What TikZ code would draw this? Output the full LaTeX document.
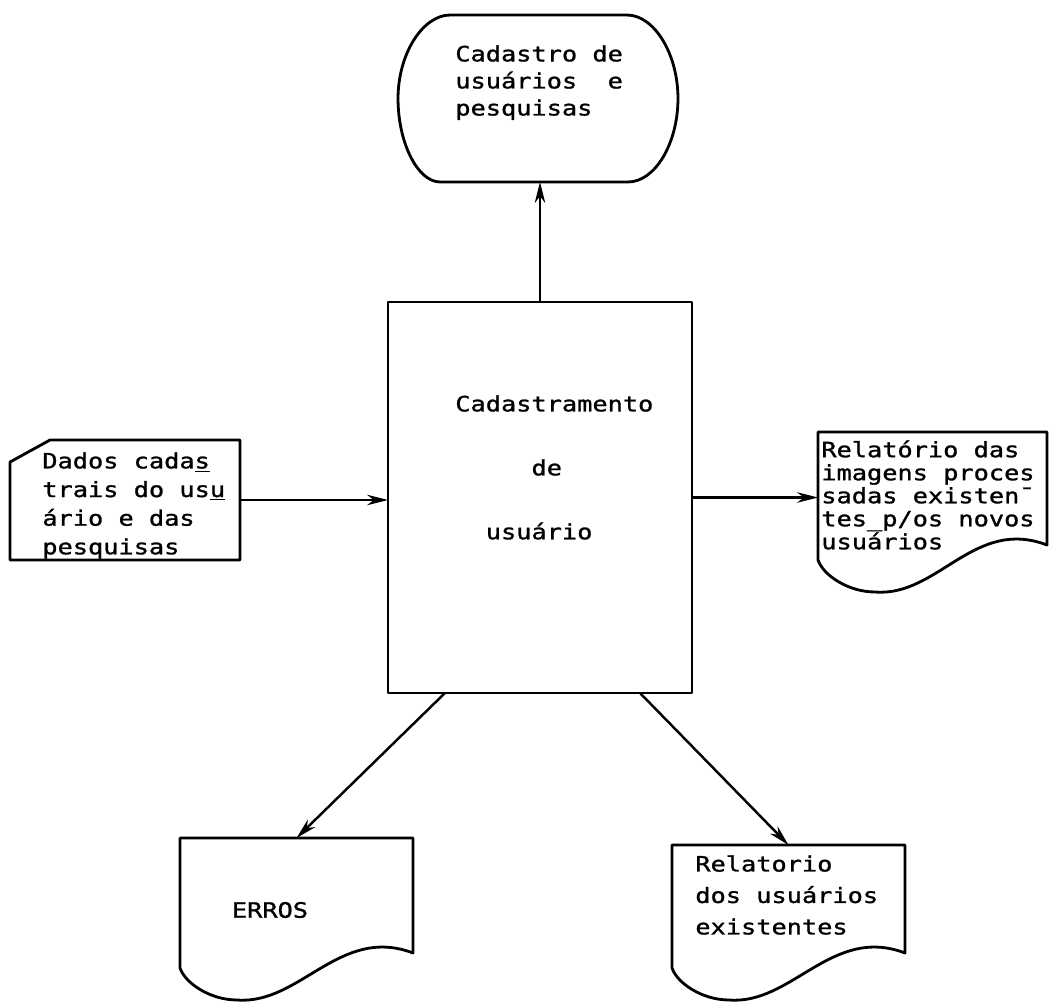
\documentclass[tikz,border=0pt]{standalone}
\usepackage{fontspec}
\usepackage{tikz}
\usetikzlibrary{arrows.meta}
\newfontfamily\tw[FakeStretch=1.2, FakeBold=1.2]{DejaVu Sans Mono}

\tikzset{
  frame/.style={inner sep=0pt, outer sep=0pt},
  outline/.style={line width=1.6pt, line join=round},
  txt/.style={align=left, inner sep=0pt, anchor=north west},
  flow/.style={-{Stealth[length=0.42cm, width=0.21cm]}, line width=1.4pt}
}

% document symbol drawn on the anchors of an empty frame node
\newcommand{\docoutline}[1]{%
  \draw[outline] (#1.north west) -- (#1.north east) -- ([yshift=0.94cm]#1.south east)
    .. controls ([xshift=-1.46cm, yshift=1.5cm]#1.south east) and ([xshift=2.4cm, yshift=-0.1cm]#1.south west) ..
    ([xshift=1.14cm]#1.south west)
    .. controls ([xshift=0.6cm]#1.south west) and ([xshift=0.1cm, yshift=0.34cm]#1.south west) ..
    ([yshift=0.64cm]#1.south west) -- cycle;}

\begin{document}
\begin{tikzpicture}[x=0.02cm, y=-0.02cm]
\useasboundingbox (0,0) rectangle (1049,1005);

% stored file
\node[frame, minimum width=5.6cm, minimum height=3.34cm] (arq) at (538,98.5) {};
\draw[outline] ([xshift=1.04cm]arq.north west) -- ([xshift=-1.02cm]arq.north east)
  .. controls ([xshift=-0.48cm]arq.north east) and ([yshift=0.9cm]arq.east) .. (arq.east)
  .. controls ([yshift=-0.9cm]arq.east) and ([xshift=-0.46cm]arq.south east) .. ([xshift=-1cm]arq.south east)
  -- ([xshift=0.84cm]arq.south west)
  .. controls ([xshift=0.4cm]arq.south west) and ([yshift=-0.9cm]arq.west) .. (arq.west)
  .. controls ([yshift=0.9cm]arq.west) and ([xshift=0.5cm]arq.north west) .. ([xshift=1.04cm]arq.north west);
\node[txt, font=\tw\fontsize{12}{15.4}\selectfont] (arqtxt) at (455,45) {Cadastro de\\usuários~~e\\pesquisas};

% process
\node[draw, outline, frame, minimum width=6.08cm, minimum height=7.82cm] (proc) at (540,497.5) {};
\node[txt, font=\tw\fontsize{12}{36.4}\selectfont] (proctxt) at (455,395) {Cadastramento\\~~~~~de\\~~usuário};

% input card
\node[frame, minimum width=4.6cm, minimum height=2.4cm] (dados) at (125,500) {};
\draw[outline] ([xshift=0.8cm]dados.north west) -- (dados.north east) -- (dados.south east)
  -- (dados.south west) -- ([yshift=-0.44cm]dados.north west) -- cycle;
\node[txt, font=\tw\fontsize{12}{16.3}\selectfont] (dadostxt) at (42,452) {Dados cada\underline{s}\\trais do us\underline{u}\\ário e das\\pesquisas};

% reports
\node[frame, minimum width=4.58cm, minimum height=3.2cm] (relimg) at (932.5,512) {};
\docoutline{relimg}
\node[txt, font=\tw\fontsize{12}{13.1}\selectfont] (relimgtxt) at (821,440) {Relatório das\\imagens proces\\sadas existen¯\\tes\_p/os novos\\usuários};

\node[frame, minimum width=4.66cm, minimum height=3.24cm] (erros) at (296.5,919) {};
\docoutline{erros}
\node[font=\tw\fontsize{12}{15.4}\selectfont, inner sep=0pt] (errostxt) at (270,910) {ERROS};

\node[frame, minimum width=4.66cm, minimum height=3.1cm] (relusu) at (788.5,922.5) {};
\docoutline{relusu}
\node[txt, font=\tw\fontsize{12}{17.9}\selectfont] (relusutxt) at (695,855) {Relatorio\\dos usuários\\existentes};

% flow lines
\draw[flow] (proc.north) -- (proc.north |- arq.south);
\draw[flow] (dados.east) -- (dados.east -| proc.west);
\draw[flow] (proc.east) -- (proc.east -| relimg.west);
\draw[flow] ([xshift=-1.9cm]proc.south) -- (erros.north);
\draw[flow] ([xshift=2cm]proc.south) -- (relusu.north);
\end{tikzpicture}
\end{document}
